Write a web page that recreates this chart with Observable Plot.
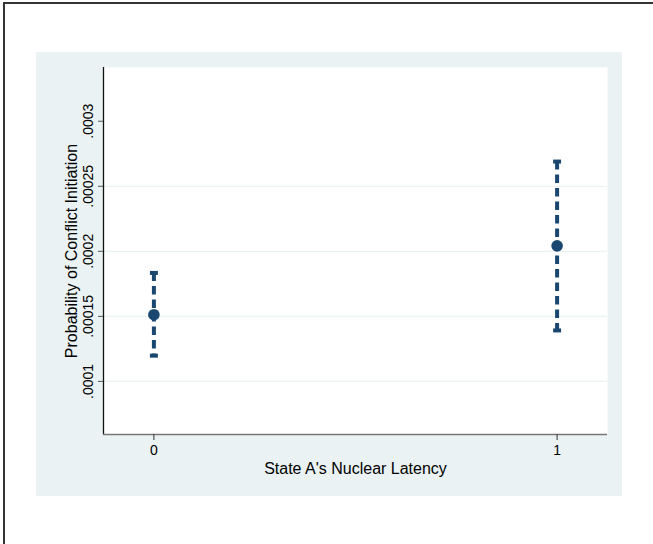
<!DOCTYPE html>
<html>
<head>
<meta charset="utf-8">
<script src="https://cdn.jsdelivr.net/npm/d3@7"></script>
<script src="https://cdn.jsdelivr.net/npm/@observablehq/plot@0.6"></script>
<style>
  html, body { margin: 0; padding: 0; background: #fff; }
  #page { position: relative; width: 653px; height: 544px; overflow: hidden; background: #fff; font-family: "Liberation Sans", Arial, sans-serif; }
  #border { position: absolute; left: 3px; top: 2px; width: 700px; height: 600px; border-left: 2px solid #333; border-top: 2px solid #333; box-sizing: border-box; }
  #panel { position: absolute; left: 36px; top: 52px; width: 586px; height: 444px; background: #EAF2F3; }
  #chart { position: absolute; left: 0; top: 0; }
  #chart svg { background: transparent !important; }
</style>
</head>
<body>
<div id="page">
  <div id="border"></div>
  <div id="panel"></div>
  <div id="chart"></div>
</div>
<script>
// Data
const latency = [0, 1];
const estimate = [0.0001513, 0.0002042];
const lower = [0.0001198, 0.0001392];
const upper = [0.0001834, 0.000269];
const yTicks = [0.0001, 0.00015, 0.0002, 0.00025, 0.0003];
const yTickLabels = [".0001", ".00015", ".0002", ".00025", ".0003"];
const yGrid = [0.0001, 0.00015, 0.0002, 0.00025];
const xTicks = [0, 1];
const xTickLabels = ["0", "1"];
const xDomain = [-0.125, 1.125];
const yDomain = [0.0000592, 0.0003413];
const xTitle = "State A's Nuclear Latency";
const yTitle = "Probability of Conflict Initiation";

const rows = latency.map((x, i) => ({x, est: estimate[i], lo: lower[i], hi: upper[i]}));
const navy = "#1a476f";

const capSymbol = {
  draw(context, size) {
    const w = Math.sqrt(size) / 2;
    context.moveTo(-w, 0);
    context.lineTo(w, 0);
  }
};

const chart = Plot.plot({
  width: 653,
  height: 544,
  marginLeft: 103,
  marginRight: 46,
  marginTop: 67,
  marginBottom: 110,
  style: {fontFamily: "'Liberation Sans', Arial, sans-serif", fontSize: "14px", color: "#000", background: "transparent"},
  x: {domain: xDomain},
  y: {domain: yDomain},
  marks: [
    Plot.frame({fill: "white", stroke: "none"}),
    Plot.ruleY(yGrid, {stroke: "#EAF2F3", strokeWidth: 1.2}),
    Plot.ruleX([xDomain[0]], {stroke: "#111", strokeWidth: 1.3}),
    Plot.ruleY([yDomain[0]], {stroke: "#777", strokeWidth: 1.6}),
    Plot.axisY({
      ticks: yTicks,
      tickFormat: (d) => yTickLabels[yTicks.indexOf(d)],
      tickSize: 5,
      tickPadding: 6,
      tickRotate: -90,
      stroke: "#555",
      fill: "#000",
      fontSize: 14,
      label: null
    }),
    Plot.axisY({
      ticks: [],
      tickSize: 0,
      label: yTitle,
      labelAnchor: "center",
      labelOffset: 38,
      labelArrow: "none",
      fill: "#000",
      fontSize: 16
    }),
    Plot.axisX({
      ticks: xTicks,
      tickFormat: (d) => xTickLabels[xTicks.indexOf(d)],
      tickSize: 6,
      tickPadding: 5,
      stroke: "#333",
      fill: "#000",
      fontSize: 14,
      label: null
    }),
    Plot.axisX({
      ticks: [],
      tickSize: 0,
      label: xTitle,
      labelAnchor: "center",
      labelOffset: 39,
      labelArrow: "none",
      fill: "#000",
      fontSize: 16
    }),
    Plot.ruleX(rows, {x: "x", y1: "hi", y2: "lo", stroke: navy, strokeWidth: 4, strokeDasharray: "8.5,5"}),
    Plot.dot(rows, {x: "x", y: "hi", symbol: capSymbol, r: 4.5, stroke: navy, strokeWidth: 4, strokeLinecap: "butt"}),
    Plot.dot(rows, {x: "x", y: "lo", symbol: capSymbol, r: 4.5, stroke: navy, strokeWidth: 4, strokeLinecap: "butt"}),
    Plot.dot(rows, {x: "x", y: "est", r: 5.8, fill: navy, stroke: "none"})
  ]
});
document.getElementById("chart").appendChild(chart);
</script>
</body>
</html>
